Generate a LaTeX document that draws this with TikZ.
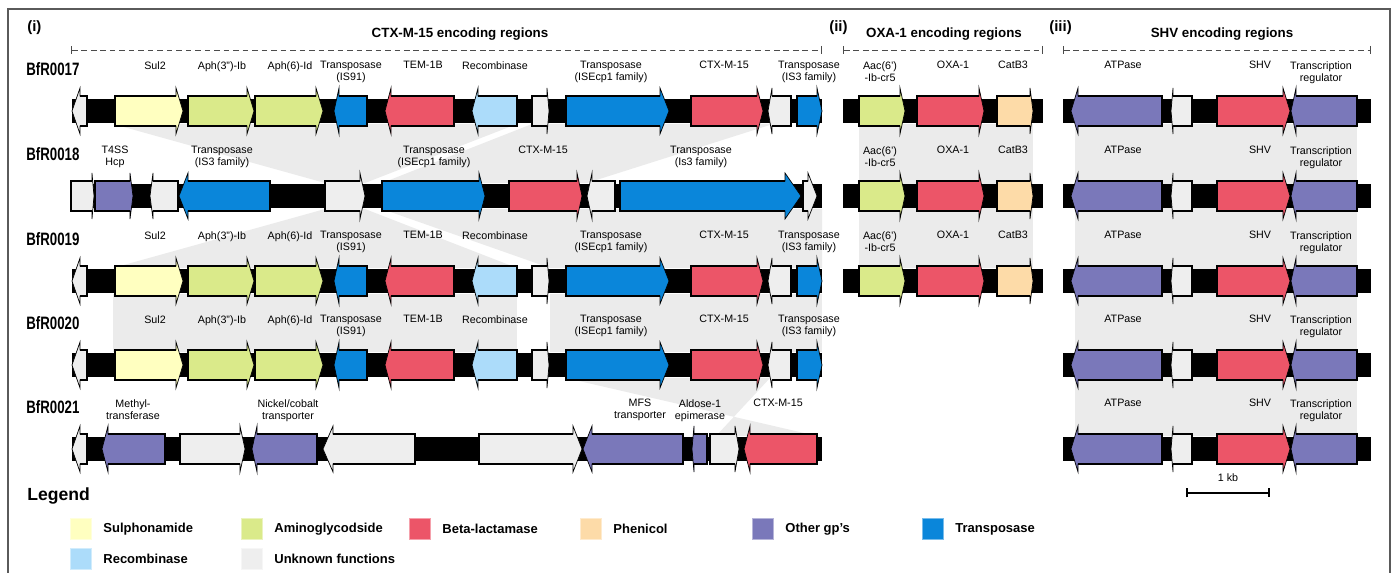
\documentclass[tikz,border=0pt]{standalone}
\usepackage{fontspec}
\setmainfont{Liberation Sans}
\newfontfamily\condbold[FakeStretch=0.74]{Liberation Sans Bold}
\usetikzlibrary{arrows.meta,positioning}
\definecolor{sulYellow}{HTML}{FFFFC0}
\definecolor{amgGreen}{HTML}{DAEA8A}
\definecolor{blaRed}{HTML}{EC5568}
\definecolor{phePeach}{HTML}{FDDBA8}
\definecolor{othPurple}{HTML}{7A78BA}
\definecolor{tnpBlue}{HTML}{0A86DA}
\definecolor{recBlue}{HTML}{ACDCFA}
\definecolor{unkGrey}{HTML}{EEEEEE}
\definecolor{bandGrey}{HTML}{EBEBEB}
\definecolor{frameGrey}{HTML}{5A5A5A}
\tikzset{
  genelabel/.style={font=\fontsize{6.1}{6.8}\selectfont, align=center, inner sep=0pt, anchor=north},
  rowlabel/.style={font=\condbold\fontsize{10.2}{12}\selectfont, anchor=west, inner sep=0pt},
  sechead/.style={font=\bfseries\fontsize{7.6}{9}\selectfont, inner sep=0pt},
  secnum/.style={font=\bfseries\fontsize{8.5}{10}\selectfont, anchor=west, inner sep=0pt},
  secline/.style={draw=black!70, line width=.5pt, dash pattern=on 3.2pt off 2.2pt,
    {Bar[width=1.6mm, line width=.7pt]}-{Bar[width=1.6mm, line width=.7pt]}},
  genebar/.style={fill=black},
  band/.style={fill=bandGrey},
  genehead/.style={draw=black, line width=.4pt},
  genebody/.style={draw=black, line width=1.6pt},
  swatch/.style={minimum width=4.2mm, minimum height=4.2mm, inner sep=0pt, anchor=west, line width=.6pt},
  legendtext/.style={font=\bfseries\fontsize{7.4}{9}\selectfont, inner sep=0pt},
  scalebar/.style={line width=.9pt, {Bar[width=1.8mm]}-{Bar[width=1.8mm]}}
}
% forward gene: start, head base, tip, row y, colour
\newcommand{\fwdgene}[5]{%
  \filldraw[genehead, fill=#5] (#1,#4-15) -- (#2,#4-15) -- (#2,#4-23) -- (#3,#4)
    -- (#2,#4+23) -- (#2,#4+15) -- (#1,#4+15) -- cycle;
  \draw[genebody] (#2,#4-15) -- (#1,#4-15) -- (#1,#4+15) -- (#2,#4+15);}
% reverse gene: tip, head base, end, row y, colour
\newcommand{\revgene}[5]{%
  \filldraw[genehead, fill=#5] (#1,#4) -- (#2,#4-23) -- (#2,#4-15) -- (#3,#4-15)
    -- (#3,#4+15) -- (#2,#4+15) -- (#2,#4+23) -- cycle;
  \draw[genebody] (#2,#4-15) -- (#3,#4-15) -- (#3,#4+15) -- (#2,#4+15);}

\begin{document}
\begin{tikzpicture}[x=0.02cm, y=-0.02cm]
  \useasboundingbox (0,0) rectangle (1392,573);
  \draw[frameGrey, line width=.6pt] (8,9) rectangle (1390,590);

  % section headings
  \node[secnum] (seci) at (27,28) {(i)};
  \node[sechead] (ctxhead) at (460,34) {CTX-M-15 encoding regions};
  \node[secnum] (secii) at (829,28) {(ii)};
  \node[sechead] (oxahead) at (944,34) {OXA-1 encoding regions};
  \node[secnum] (seciii) at (1049,28) {(iii)};
  \node[sechead] (shvhead) at (1222,34) {SHV encoding regions};
  \coordinate (ctxL) at (71,50);   \coordinate (ctxR) at (822,50);
  \coordinate (oxaL) at (843,50);  \coordinate (oxaR) at (1043,50);
  \coordinate (shvL) at (1063,50); \coordinate (shvR) at (1371,50);
  \draw[secline] (ctxL) -- (ctxR);
  \draw[secline] (oxaL) -- (oxaR);
  \draw[secline] (shvL) -- (shvR);

  % homology bands
  \fill[band] (113,124) -- (517,124) -- (365,183) -- (325,183) -- cycle;
  \fill[band] (532,124) -- (773,124) -- (587,183) -- (382,183) -- cycle;
  \fill[band] (325,209) -- (365,209) -- (517,268) -- (113,268) -- cycle;
  \fill[band] (382,209) -- (822,209) -- (822,268) -- (550,268) -- cycle;
  \fill[band] (113,294) rectangle (517,352);
  \fill[band] (550,294) rectangle (822,352);
  % inverted match BfR0020 -> BfR0021
  \fill[band] (566,378) -- (770,378) -- (716,436) -- (817,436) -- cycle;
  \fill[band] (859,124) rectangle (1033,268);
  \fill[band] (1075,124) rectangle (1357,436);

  % row names
  \foreach \r/\y in {17/111,18/196,19/281,20/365,21/449}{
    \node[rowlabel] (bfr\r) at (26,\y-42) {BfR00\r};
  }

  % CTX-M-15 region, BfR0017/19/20
  \foreach \r/\y in {17/111,19/281,20/365}{
    \fill[genebar] (72,\y-12) rectangle (822,\y+12);
    \revgene{72}{80}{87}{\y}{unkGrey}
    \fwdgene{115}{176}{183}{\y}{sulYellow}
    \fwdgene{188}{247}{254}{\y}{amgGreen}
    \fwdgene{255}{316}{323}{\y}{amgGreen}
    \revgene{334}{339}{367}{\y}{tnpBlue}
    \revgene{385}{391}{454}{\y}{blaRed}
    \revgene{472}{478}{517}{\y}{recBlue}
    \fwdgene{532}{547}{549}{\y}{unkGrey}
    \fwdgene{566}{660}{669}{\y}{tnpBlue}
    \fwdgene{691}{757}{763}{\y}{blaRed}
    \revgene{768}{772}{791}{\y}{unkGrey}
    \fwdgene{797}{817}{822}{\y}{tnpBlue}
    \node[genelabel] (sul\r) at (155,\y-50) {Sul2};
    \node[genelabel] (aphb\r) at (222,\y-50) {Aph(3'')-Ib};
    \node[genelabel] (aphd\r) at (290,\y-50) {Aph(6)-Id};
    \node[genelabel] (isn\r) at (351,\y-50) {Transposase\\(IS91)};
    \node[genelabel] (tem\r) at (423,\y-50) {TEM-1B};
    \node[genelabel] (rec\r) at (495,\y-50) {Recombinase};
    \node[genelabel] (isecp\r) at (611,\y-50) {Transposase\\(ISEcp1 family)};
    \node[genelabel] (ctx\r) at (724,\y-50) {CTX-M-15};
    \node[genelabel] (isthree\r) at (809,\y-50) {Transposase\\(IS3 family)};
  }

  % CTX-M-15 region, BfR0018
  \fill[genebar] (71,184) rectangle (822,208);
  \fwdgene{71}{92}{94}{196}{unkGrey}
  \fwdgene{95}{130}{133}{196}{othPurple}
  \revgene{150}{153}{178}{196}{unkGrey}
  \revgene{179}{188}{270}{196}{tnpBlue}
  \fwdgene{325}{360}{365}{196}{unkGrey}
  \fwdgene{382}{479}{485}{196}{tnpBlue}
  \fwdgene{509}{577}{582}{196}{blaRed}
  \revgene{587}{592}{615}{196}{unkGrey}
  \fwdgene{620}{785}{801}{196}{tnpBlue}
  \fwdgene{803}{808}{817}{196}{unkGrey}
  \node[genelabel] (hcp18) at (115,146) {T4SS\\Hcp};
  \node[genelabel] (isthreea18) at (222,146) {Transposase\\(IS3 family)};
  \node[genelabel] (isecp18) at (434,146) {Transposase\\(ISEcp1 family)};
  \node[genelabel] (ctx18) at (543,146) {CTX-M-15};
  \node[genelabel] (isthreeb18) at (701,146) {Transposase\\(Is3 family)};

  % CTX-M-15 region, BfR0021
  \fill[genebar] (72,437) rectangle (822,461);
  \revgene{72}{80}{87}{449}{unkGrey}
  \revgene{102}{108}{165}{449}{othPurple}
  \fwdgene{180}{240}{245}{449}{unkGrey}
  \revgene{252}{257}{317}{449}{othPurple}
  \revgene{323}{333}{415}{449}{unkGrey}
  \fwdgene{479}{573}{582}{449}{unkGrey}
  \revgene{583}{592}{683}{449}{othPurple}
  \revgene{692}{694}{707}{449}{othPurple}
  \fwdgene{710}{735}{739}{449}{unkGrey}
  \revgene{744}{750}{817}{449}{blaRed}
  \node[genelabel] (mtase21) at (133,399) {Methyl-\\transferase};
  \node[genelabel] (nico21) at (288,399) {Nickel/cobalt\\transporter};
  \node[genelabel] (mfs21) at (640,399) {MFS\\transporter};
  \node[genelabel] (aldo21) at (700,399) {Aldose-1\\epimerase};
  \node[genelabel] (ctx21) at (778,399) {CTX-M-15};

  % OXA-1 region
  \foreach \r/\y in {17/111,18/196,19/281}{
    \fill[genebar] (843,\y-12) rectangle (1043,\y+12);
    \fwdgene{859}{900}{905}{\y}{amgGreen}
    \fwdgene{917}{979}{984}{\y}{blaRed}
    \fwdgene{997}{1030}{1033}{\y}{phePeach}
    \node[genelabel] (aac\r) at (880,\y-50) {Aac(6')\\-Ib-cr5};
    \node[genelabel] (oxa\r) at (953,\y-50) {OXA-1};
    \node[genelabel] (cat\r) at (1013,\y-50) {CatB3};
  }

  % SHV region
  \foreach \r/\y in {17/111,18/196,19/281,20/365,21/449}{
    \fill[genebar] (1063,\y-12) rectangle (1371,\y+12);
    \revgene{1071}{1078}{1162}{\y}{othPurple}
    \revgene{1171}{1173}{1192}{\y}{unkGrey}
    \fwdgene{1217}{1283}{1290}{\y}{blaRed}
    \revgene{1291}{1296}{1357}{\y}{othPurple}
    \node[genelabel] (atp\r) at (1123,\y-50) {ATPase};
    \node[genelabel] (shv\r) at (1260,\y-50) {SHV};
    \node[genelabel] (treg\r) at (1321,\y-50) {Transcription\\regulator};
  }

  % scale bar
  \coordinate (kbL) at (1186,493);
  \coordinate (kbR) at (1270,493);
  \draw[scalebar] (kbL) -- node[genelabel, anchor=south, yshift=2.2mm] (kb) {1 kb} (kbR);

  % legend
  \node[font=\bfseries\fontsize{10}{12}\selectfont, anchor=west, inner sep=0pt] (legend) at (27,496) {Legend};
  \foreach \nm/\col/\xx/\yy/\txt in {sul/sulYellow/70/529/Sulphonamide, amg/amgGreen/241/529/Aminoglycodside,
      bla/blaRed/409/529/Beta-lactamase, phe/phePeach/580/529/Phenicol, oth/othPurple/752/529/Other gp's,
      tnp/tnpBlue/922/529/Transposase, rec/recBlue/70/559/Recombinase, unk/unkGrey/241/559/Unknown functions}{
    \node[swatch, fill=\col, draw=\col!55!white] (sw\nm) at (\xx,\yy) {};
    \node[legendtext, right=2.2mm of sw\nm] (lt\nm) {\txt};
  }
\end{tikzpicture}
\end{document}
